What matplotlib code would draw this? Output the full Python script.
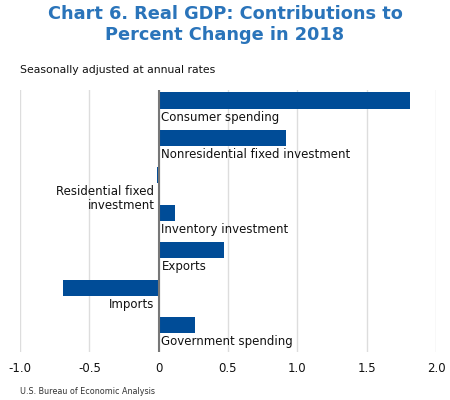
import matplotlib.pyplot as plt

# Dades del gràfic
categories = ["Consumer spending", "Nonresidential fixed investment",
              "Residential fixed\ninvestment", "Inventory investment",
              "Exports", "Imports", "Government spending"]
values = [1.81, 0.92, -0.01, 0.12, 0.47, -0.69, 0.26]
tick_values = [-1.0, -0.5, 0, 0.5, 1.0, 1.5, 2.0]
tick_labels = ["-1.0", "-0.5", "0", "0.5", "1.0", "1.5", "2.0"]

bar_color = "#004c97"
title_color = "#2a74ba"

plt.rcParams["font.family"] = ["DejaVu Sans"]

fig = plt.figure(figsize=(4.5, 4.0), dpi=100)
ax = fig.add_axes([0.0444, 0.12, 0.9245, 0.655])

y = list(range(len(categories)))
ax.barh(y, values, height=0.43, color=bar_color, zorder=3)

# Etiquetes sota cada barra
i = 0
while i < len(categories):
    if values[i] > 0:
        ax.text(0.02, y[i] + 0.27, categories[i], ha="left", va="top",
                fontsize=8.5, color="#111111", zorder=4)
    else:
        ax.text(-0.03, y[i] + 0.27, categories[i], ha="right", va="top",
                fontsize=8.5, color="#111111", zorder=4, linespacing=1.1)
    i = i + 1

ax.set_xlim(-1.0, 2.0)
ax.set_ylim(6.72, -0.28)
ax.set_xticks(tick_values)
ax.set_xticklabels(tick_labels, fontsize=8.5, color="#111111")
ax.set_yticks([])
ax.tick_params(axis="x", length=0, pad=7)
ax.grid(axis="x", color="#dddddd", linewidth=1, zorder=0)
ax.axvline(0, color="#777777", linewidth=1.5, zorder=4)
for s in ax.spines.values():
    s.set_visible(False)

fig.text(0.5, 0.988, "Chart 6. Real GDP: Contributions to\nPercent Change in 2018",
         ha="center", va="top", fontsize=12.8, fontweight="bold",
         color=title_color, linespacing=1.25)
fig.text(0.044, 0.825, "Seasonally adjusted at annual rates", ha="left",
         va="center", fontsize=7.8, color="#111111")
fig.text(0.044, 0.02, "U.S. Bureau of Economic Analysis", ha="left",
         va="center", fontsize=5.8, color="#333333")

fig.savefig("out.png", dpi=100)
